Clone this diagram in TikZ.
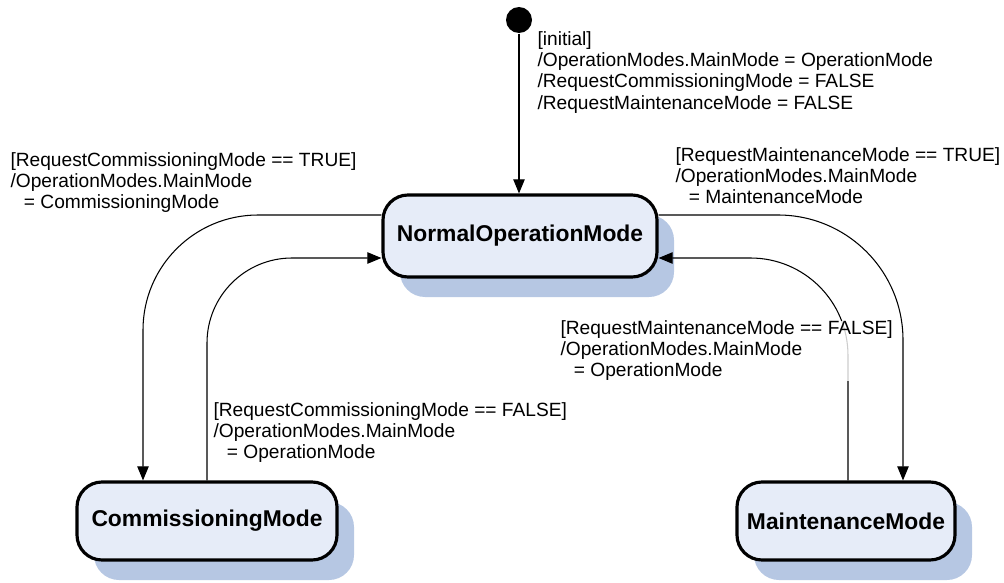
\documentclass[tikz,border=0pt]{standalone}
\usepackage{fontspec}
\setmainfont{Liberation Sans}
\usepackage{xcolor}
\usepackage{tikz}
\usetikzlibrary{arrows.meta,shadows,positioning,calc}
\definecolor{modefill}{RGB}{230,236,248}
\definecolor{modeshadow}{RGB}{182,199,227}

\begin{document}
\begin{tikzpicture}[>={Triangle[length=8pt,width=6.5pt]},line width=0.6pt,
  mode node/.style={rectangle,rounded corners=0.5cm,draw,line width=1.8pt,fill=modefill,
    font=\fontsize{13}{15}\selectfont\bfseries,
    drop shadow={shadow xshift=0.34cm,shadow yshift=-0.4cm,fill=modeshadow,opacity=1}},
  init node/.style={circle,fill=black,inner sep=0pt,minimum size=0.52cm},
  guard/.style={anchor=north west,align=left,inner sep=0pt,font=\fontsize{10.9}{12.1}\selectfont}]
          \useasboundingbox (0,0) rectangle (20.08,-11.66);
          \node[init node] at (10.38,-0.40) (init) {};
          \node[mode node,minimum width=5.48cm,minimum height=1.64cm] at (10.4,-4.72) (normal) {NormalOperationMode};
          \node[mode node,minimum width=5.2cm,minimum height=1.56cm] at (4.14,-10.42) (comm) {CommissioningMode};
          \node[mode node,minimum width=4.36cm,minimum height=1.56cm] at (16.92,-10.42) (maint) {MaintenanceMode};
          % transitions
          \draw[->] (init) -- (init |- normal.north);
          \draw[->,rounded corners=2.3cm] ([yshift=0.42cm]normal.west) -| ([xshift=-1.28cm]comm.north);
          \draw[->,rounded corners=1.7cm] (comm.north) |- ([yshift=-0.44cm]normal.west);
          \draw[->,rounded corners=2.5cm] ([yshift=0.42cm]normal.east) -| ([xshift=1.14cm]maint.north);
          \draw[->,rounded corners=1.95cm] ([xshift=0.04cm]maint.north) |- ([yshift=-0.44cm]normal.east);
          % guards
          \node[guard] at (10.74,-0.62) (initlbl) {[initial]\\/OperationModes.MainMode = OperationMode\\/RequestCommissioningMode = FALSE\\/RequestMaintenanceMode = FALSE};
          \node[guard] at (0.2,-3.04) (commtrue) {[RequestCommissioningMode == TRUE]\\/OperationModes.MainMode\\\hspace*{0.7em}= CommissioningMode};
          \node[guard] at (13.5,-2.94) (mainttrue) {[RequestMaintenanceMode == TRUE]\\/OperationModes.MainMode\\\hspace*{0.7em}= MaintenanceMode};
          \node[guard,fill=white,fill opacity=0.8,text opacity=1] at (11.2,-6.4) (maintfalse) {[RequestMaintenanceMode == FALSE]\\/OperationModes.MainMode\\\hspace*{0.7em}= OperationMode};
          \node[guard] at (4.26,-8.04) (commfalse) {[RequestCommissioningMode == FALSE]\\/OperationModes.MainMode\\\hspace*{0.7em}= OperationMode};
        \end{tikzpicture}
\end{document}
